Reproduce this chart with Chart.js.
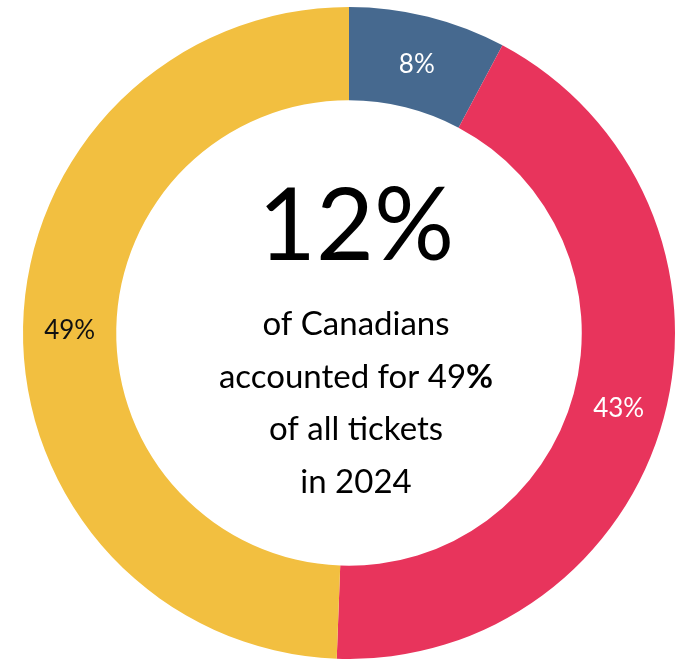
<!DOCTYPE html>
<html>
<head>
<meta charset="utf-8">
<script src="https://cdn.jsdelivr.net/npm/chart.js@4/dist/chart.umd.min.js"></script>
<style>
html,body{margin:0;padding:0;background:#fff;}
#wrap{width:677px;height:659px;position:relative;}
</style>
</head>
<body>
<div id="wrap"><canvas id="c" width="677" height="659"></canvas></div>
<script>
const categories = ["Segment A", "Segment B", "Segment C"];
const values = [7.8, 42.8, 49.4];
const valueLabels = ["8%", "43%", "49%"];
const labelColors = ["#ffffff", "#ffffff", "#111111"];
const colors = ["#46698F", "#E8345C", "#F2BF40"];
const centerBig = "12%";
const centerLines = ["of Canadians", "accounted for 49", "of all tickets", "in 2024"];

const FONT = "Lato, 'Open Sans', sans-serif";

const labelPlugin = {
  id: 'labels',
  afterDatasetsDraw(chart) {
    const ctx = chart.ctx;
    const meta = chart.getDatasetMeta(0);
    ctx.save();
    ctx.textAlign = 'center';
    ctx.textBaseline = 'middle';
    ctx.font = "26px " + FONT;
    meta.data.forEach((arc, i) => {
      const p = arc.tooltipPosition();
      ctx.fillStyle = labelColors[i];
      ctx.fillText(valueLabels[i], p.x, p.y + 3);
    });
    const cx = (chart.chartArea.left + chart.chartArea.right) / 2;
    ctx.fillStyle = '#000';
    ctx.font = "100px " + FONT;
    ctx.textBaseline = 'alphabetic';
    ctx.fillText(centerBig, cx + 7, 260);
    const fs = "33px " + FONT;
    const fb = "bold 33px " + FONT;
    const ys = [335, 388, 440, 493];
    centerLines.forEach((t, i) => {
      if (i === 1) {
        ctx.font = fs;
        const w1 = ctx.measureText(t).width;
        ctx.font = fb;
        const w2 = ctx.measureText('%').width;
        const start = cx + 7 - (w1 + w2) / 2;
        ctx.textAlign = 'left';
        ctx.font = fs;
        ctx.fillText(t, start, ys[i]);
        ctx.font = fb;
        ctx.fillText('%', start + w1, ys[i]);
        ctx.textAlign = 'center';
      } else {
        ctx.font = fs;
        ctx.fillText(t, cx + 7, ys[i]);
      }
    });
    ctx.restore();
  }
};

new Chart(document.getElementById('c'), {
  type: 'doughnut',
  data: {
    labels: categories,
    datasets: [{
      data: values,
      backgroundColor: colors,
      borderWidth: 0,
      hoverOffset: 0
    }]
  },
  options: {
    responsive: false,
    animation: false,
    cutout: '71.4%',
    layout: { padding: { left: 23, right: 2, top: 7, bottom: 0 } },
    plugins: {
      legend: { display: false },
      tooltip: { enabled: false }
    }
  },
  plugins: [labelPlugin]
});
</script>
</body>
</html>
